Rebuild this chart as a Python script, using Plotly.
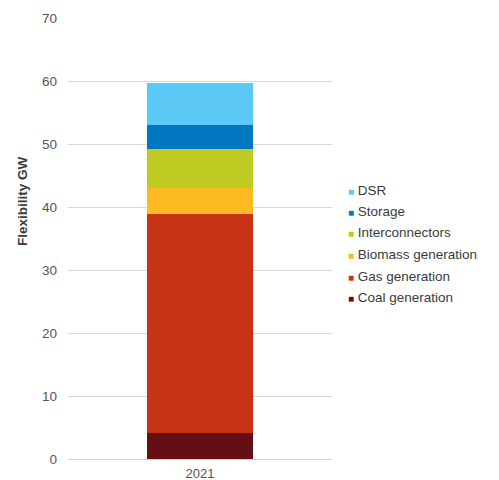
import plotly.graph_objects as go

categories = ["2021"]
series_names = ["Coal generation", "Gas generation", "Biomass generation",
                "Interconnectors", "Storage", "DSR"]
series_values = [4.1, 34.8, 4.05, 6.25, 3.85, 6.65]
series_colors = ["#640F14", "#C63415", "#FDB922", "#BFCB23", "#0077C0", "#5BC8F5"]
y_ticks = [0, 10, 20, 30, 40, 50, 60, 70]

FONT = "Liberation Sans, Arial, sans-serif"

fig = go.Figure()
for name, val, col in zip(series_names, series_values, series_colors):
    fig.add_trace(go.Bar(x=categories, y=[val], name=name,
                         marker=dict(color=col, line=dict(width=0)),
                         showlegend=False))

W, H = 499, 480
L, R, T, B = 68, 167, 18, 21
pw, ph = W - L - R, H - T - B

def px_to_paper(xp, yp):
    return (xp - L) / pw, (H - B - yp) / ph

annotations = []
# manual legend (top item = last series)
leg_y0, leg_dy = 190, 21.5
for i, (name, col) in enumerate(zip(reversed(series_names), reversed(series_colors))):
    xp, yp = px_to_paper(346, leg_y0 + i * leg_dy)
    annotations.append(dict(
        x=xp, y=yp, xref="paper", yref="paper", xanchor="left", yanchor="middle",
        showarrow=False,
        text=f'<span style="color:{col};font-size:10px">■</span> {name}',
        font=dict(family=FONT, size=13.5, color="#3a3a3a")))

# y axis title
xp, yp = px_to_paper(22, 201)
annotations.append(dict(x=xp, y=yp, xref="paper", yref="paper", showarrow=False,
                        xanchor="center", yanchor="middle", textangle=-90,
                        text="<b>Flexibility GW</b>",
                        font=dict(family=FONT, size=13.5, color="#3a3a3a")))

fig.update_layout(
    width=W, height=H,
    margin=dict(l=L, r=R, t=T, b=B, pad=0, autoexpand=False),
    barmode="stack", bargap=0.6,
    plot_bgcolor="white", paper_bgcolor="white",
    showlegend=False,
    annotations=annotations,
    xaxis=dict(showgrid=False, showline=True, linecolor="#cfcfcf", linewidth=1,
               automargin=False,
               ticks="", tickfont=dict(family=FONT, size=13, color="#555555"),
               ticklabelstandoff=2),
    yaxis=dict(range=[0, 70], tickvals=y_ticks, showgrid=True, gridcolor="#d9d9d9",
               gridwidth=1, zeroline=False, showline=False, ticks="",
               automargin=False, ticklabelstandoff=10,
               tickfont=dict(family=FONT, size=13.5, color="#555555")),
)

fig.write_html("out.html")
